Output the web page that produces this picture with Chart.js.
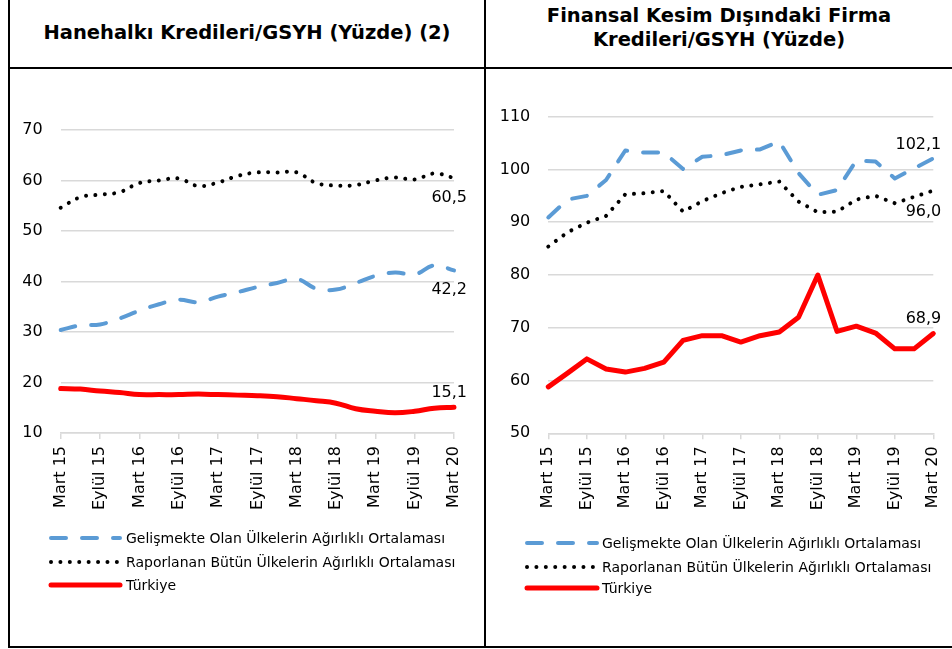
<!DOCTYPE html>
<html lang="tr">
<head>
<meta charset="utf-8">
<script src="https://cdn.jsdelivr.net/npm/chart.js@4.4.1/dist/chart.umd.min.js"></script>
<style>
  body { margin: 0; background: #fff; font-family: "DejaVu Sans", sans-serif; }
  #page { position: relative; width: 952px; height: 649px; overflow: hidden; }
  .ln { position: absolute; background: #000; }
  .title { position: absolute; top: 0; display: flex; align-items: center; justify-content: center;
           text-align: center; font-weight: bold; font-size: 19.5px; line-height: 24px; color: #000; }
  canvas { position: absolute; }
</style>
</head>
<body>
<div id="page">
  <div class="ln" style="left:8px;top:0;width:2px;height:648px"></div>
  <div class="ln" style="left:484px;top:0;width:2px;height:648px"></div>
  <div class="ln" style="left:8px;top:67px;width:944px;height:2px"></div>
  <div class="ln" style="left:8px;top:646px;width:944px;height:2px"></div>

  <div class="title" style="left:10px;width:474px;height:65px">Hanehalkı Kredileri/GSYH (Yüzde) (2)</div>
  <div class="title" style="left:486px;width:466px;height:55px">Finansal Kesim Dışındaki Firma<br>Kredileri/GSYH (Yüzde)</div>

  <canvas id="household" width="474" height="577" style="left:10px;top:69px"></canvas>
  <canvas id="corporate" width="466" height="577" style="left:486px;top:69px"></canvas>
</div>

<script>
// quarterly observations, Mart 15 - Mart 20
const quarters = [
  'Mart 15', 'Haziran 15', 'Eylül 15', 'Aralık 15',
  'Mart 16', 'Haziran 16', 'Eylül 16', 'Aralık 16',
  'Mart 17', 'Haziran 17', 'Eylül 17', 'Aralık 17',
  'Mart 18', 'Haziran 18', 'Eylül 18', 'Aralık 18',
  'Mart 19', 'Haziran 19', 'Eylül 19', 'Aralık 19',
  'Mart 20'
];

const seriesNames = [
  'Gelişmekte Olan Ülkelerin Ağırlıklı Ortalaması',
  'Raporlanan Bütün Ülkelerin Ağırlıklı Ortalaması',
  'Türkiye'
];

// Hanehalkı kredileri / GSYH
const hhEmerging = [30.4, 31.3, 31.5, 32.7, 34.2, 35.5, 36.4, 35.9, 37.0, 37.9, 38.9, 39.7, 40.5, 38.6, 38.4, 39.7, 41.1, 41.8, 41.4, 43.2, 42.2];
const hhAll      = [54.6, 56.7, 57.2, 57.7, 59.5, 60.0, 60.4, 58.9, 59.6, 60.9, 61.6, 61.6, 61.6, 59.5, 59.0, 59.1, 60.0, 60.6, 60.2, 61.4, 60.5];
const hhTurkey   = [18.8, 18.7, 18.3, 18.0, 17.6, 17.6, 17.6, 17.7, 17.6, 17.5, 17.4, 17.2, 16.8, 16.4, 15.9, 14.8, 14.3, 14.0, 14.3, 14.9, 15.1];

// Finansal kesim dışındaki firma kredileri / GSYH
const fcEmerging = [90.9, 94.3, 95.0, 98.0, 103.6, 103.2, 103.2, 100.1, 102.4, 102.7, 103.6, 103.8, 105.3, 99.3, 95.2, 96.1, 101.7, 101.5, 98.3, 100.2, 102.1];
const fcAll      = [85.4, 88.1, 89.9, 91.2, 95.3, 95.5, 95.9, 92.0, 94.0, 95.5, 96.7, 97.2, 97.7, 93.9, 91.9, 92.0, 94.3, 95.0, 93.6, 94.8, 96.0];
const fcTurkey   = [58.8, 61.4, 64.1, 62.2, 61.6, 62.3, 63.5, 67.6, 68.5, 68.5, 67.3, 68.5, 69.2, 72.0, 80.0, 69.3, 70.3, 69.0, 66.0, 66.0, 68.9];

const FONT = 'DejaVu Sans';
const GRID = '#D9D9D9';

// value label next to the last point of every series
const endLabels = {
  id: 'endLabels',
  afterDatasetsDraw(chart, args, opts) {
    const ctx = chart.ctx;
    ctx.save();
    ctx.font = '16px "' + FONT + '"';
    ctx.fillStyle = '#000';
    ctx.textAlign = 'right';
    ctx.textBaseline = 'middle';
    chart.data.datasets.forEach((ds, i) => {
      const pts = chart.getDatasetMeta(i).data;
      const p = pts[pts.length - 1];
      const v = ds.data[ds.data.length - 1];
      ctx.fillText(v.toFixed(1).replace('.', ','), p.x + opts.dx, p.y + opts.dy[i]);
    });
    ctx.restore();
  }
};

// legend drawn as long line samples, one row per series
const lineLegend = {
  id: 'lineLegend',
  afterDraw(chart, args, opts) {
    const ctx = chart.ctx;
    ctx.save();
    chart.data.datasets.forEach((ds, i) => {
      const y = opts.rows[i];
      ctx.beginPath();
      ctx.strokeStyle = ds.borderColor;
      ctx.lineWidth = ds.borderWidth;
      ctx.lineCap = ds.borderCapStyle || 'butt';
      ctx.setLineDash(ds.borderDash || []);
      ctx.moveTo(opts.x0, y);
      ctx.lineTo(opts.x1, y);
      ctx.stroke();
      ctx.setLineDash([]);
      ctx.font = '14px "' + FONT + '"';
      ctx.fillStyle = '#000';
      ctx.textBaseline = 'middle';
      ctx.fillText(ds.label, opts.textX, y + 1);
    });
    ctx.restore();
  }
};

function createLineChart(canvasId, series, yMin, yMax, smooth, box, labels, legend) {
  const ctx = document.getElementById(canvasId).getContext('2d');
  return new Chart(ctx, {
    type: 'line',
    data: {
      labels: quarters,
      datasets: [
        { label: seriesNames[0], data: series[0], borderColor: '#5B9BD5', borderWidth: 4,
          borderDash: [15, 16], borderCapStyle: 'round' },
        { label: seriesNames[1], data: series[1], borderColor: '#000000', borderWidth: 4,
          borderDash: [0.01, 9.4], borderCapStyle: 'round' },
        { label: seriesNames[2], data: series[2], borderColor: '#FF0000', borderWidth: 5,
          borderCapStyle: 'round' },
      ],
    },
    plugins: [endLabels, lineLegend],
    options: {
      responsive: false,
      animation: false,
      clip: false,
      elements: {
        point: { radius: 0 },
        line: { tension: smooth ? 0.4 : 0, borderJoinStyle: 'round', fill: false },
      },
      layout: { padding: { top: box.top, right: box.right, bottom: box.bottom, left: 0 } },
      plugins: {
        legend: { display: false },
        tooltip: { enabled: false },
        endLabels: labels,
        lineLegend: legend,
      },
      scales: {
        x: {
          grid: {
            drawOnChartArea: false,
            tickLength: 6,
            lineWidth: 1.5,
            color: (c) => (c.index % 2 === 0 ? GRID : 'rgba(0,0,0,0)'),
          },
          border: { color: GRID, width: 1.5 },
          ticks: {
            autoSkip: false,
            minRotation: 90,
            maxRotation: 90,
            padding: 7,
            color: '#000',
            font: { family: FONT, size: 16 },
            callback: function (v, i) { return i % 2 === 0 ? this.getLabelForValue(v) : ''; },
          },
          afterFit: (s) => { s.height = 150; s.paddingLeft = 0; s.paddingRight = 0; },
        },
        y: {
          min: yMin,
          max: yMax,
          grid: { color: GRID, lineWidth: 1.5, drawTicks: false },
          border: { display: false },
          ticks: { stepSize: 10, padding: 18, color: '#000', font: { family: FONT, size: 16 } },
          afterFit: (s) => { s.width = box.left; },
        },
      },
    },
  });
}

createLineChart('household', [hhEmerging, hhAll, hhTurkey], 10, 70, true,
  { left: 50.7, top: 61, right: 30, bottom: 63 },
  { dx: 13, dy: [19, 20, -14] },
  { x0: 41, x1: 110, textX: 116, rows: [469, 493, 516] });

createLineChart('corporate', [fcEmerging, fcAll, fcTurkey], 50, 110, false,
  { left: 62.3, top: 47.7, right: 18.7, bottom: 62.7 },
  { dx: 8, dy: [-14, 21, -15] },
  { x0: 41, x1: 111, textX: 116, rows: [474, 498, 519] });
</script>
</body>
</html>
